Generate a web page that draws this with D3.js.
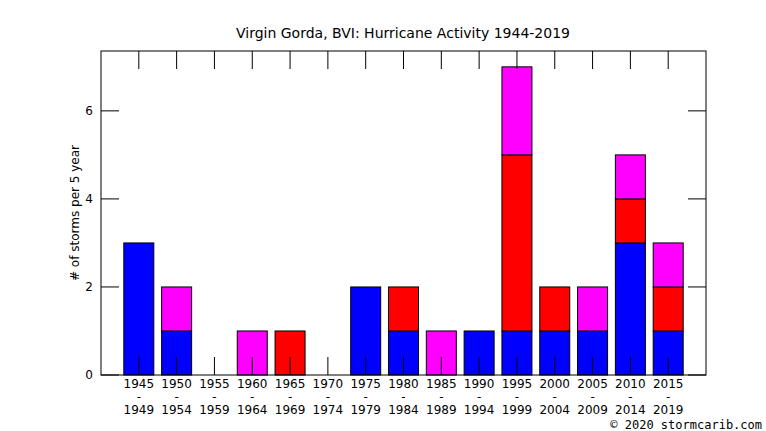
<!DOCTYPE html>
<html><head><meta charset="utf-8">
<script src="https://cdn.jsdelivr.net/npm/d3@7"></script>
<style>body{margin:0;background:#fff}text{font-family:"DejaVu Sans",sans-serif}</style>
</head><body><svg id="c" width="766" height="431"></svg>
<script>
const starts = [1945,1950,1955,1960,1965,1970,1975,1980,1985,1990,1995,2000,2005,2010,2015];
const blue    = [3,1,0,0,0,0,2,1,0,1,1,1,1,3,1];
const red     = [0,0,0,0,1,0,0,1,0,0,4,1,0,1,1];
const magenta = [0,1,0,1,0,0,0,0,1,0,2,0,1,1,1];
const yTicks = [0,2,4,6];

const svg = d3.select("#c");
const L = 101, R = 706, T = 51, B = 375;
const x = d3.scaleLinear().domain([0, 16]).range([L, R]);
const y = d3.scaleLinear().domain([0, 7.36]).range([B, T]);
const bw = 30;

const series = [[blue, "#0000ff"], [red, "#ff0000"], [magenta, "#ff00ff"]];
starts.forEach((s, i) => {
  let base = 0;
  series.forEach(([vals, col]) => {
    const v = vals[i];
    if (v > 0) {
      svg.append("rect").attr("x", x(i + 1) - bw / 2).attr("y", y(base + v))
        .attr("width", bw).attr("height", y(base) - y(base + v))
        .attr("fill", col).attr("stroke", "#000").attr("stroke-width", 1);
    }
    base += v;
  });
});

// ticks
const g = svg.append("g").attr("stroke", "#000").attr("stroke-width", 1);
starts.forEach((s, i) => {
  g.append("line").attr("x1", x(i + 1)).attr("x2", x(i + 1)).attr("y1", T).attr("y2", T + 18);
  g.append("line").attr("x1", x(i + 1)).attr("x2", x(i + 1)).attr("y1", B).attr("y2", B - 18);
  const t = svg.append("text").attr("text-anchor", "middle").attr("font-size", 12);
  [String(s), "-", String(s + 4)].forEach((ln, k) =>
    t.append("tspan").attr("x", x(i + 1)).attr("y", 388 + k * 13).text(ln));
});
yTicks.forEach(v => {
  g.append("line").attr("x1", L).attr("x2", L + 18).attr("y1", y(v)).attr("y2", y(v));
  g.append("line").attr("x1", R).attr("x2", R - 18).attr("y1", y(v)).attr("y2", y(v));
  svg.append("text").attr("x", L - 8).attr("y", y(v) + 4).attr("text-anchor", "end")
    .attr("font-size", 12).text(v);
});
svg.append("rect").attr("x", L).attr("y", T).attr("width", R - L).attr("height", B - T)
  .attr("fill", "none").attr("stroke", "#000");

svg.append("text").attr("x", 403).attr("y", 38).attr("text-anchor", "middle")
  .attr("font-size", 14).text("Virgin Gorda, BVI: Hurricane Activity 1944-2019");
svg.append("text").attr("transform", "translate(79,213) rotate(-90)").attr("text-anchor", "middle")
  .attr("font-size", 12).text("# of storms per 5 year");
svg.append("text").attr("x", 762).attr("y", 429).attr("text-anchor", "end")
  .attr("font-size", 12).style("font-family", "'DejaVu Sans Mono',monospace").text("© 2020 stormcarib.com");
</script></body></html>
